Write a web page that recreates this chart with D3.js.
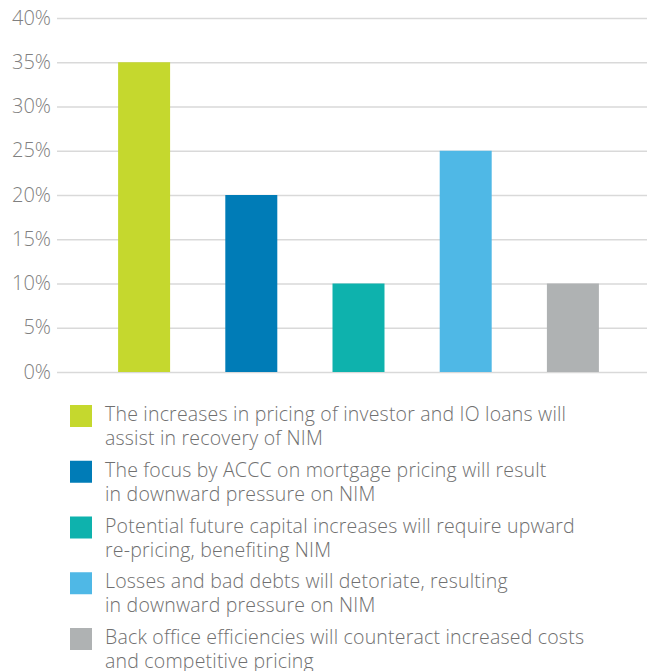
<!DOCTYPE html>
<html>
<head>
<meta charset="utf-8">
<script src="https://cdn.jsdelivr.net/npm/d3@7"></script>
<style>
  html, body { margin: 0; padding: 0; background: #fff; }
  svg { display: block; }
  text { font-family: "Open Sans", "Noto Sans", sans-serif; }
</style>
</head>
<body>
<svg id="chart" width="647" height="671"></svg>
<script>
// Survey responses: expected drivers of net interest margin (NIM)
const categories = [
  "The increases in pricing of investor and IO loans will|assist in recovery of NIM",
  "The focus by ACCC on mortgage pricing will result|in downward pressure on NIM",
  "Potential future capital increases will require upward|re-pricing, benefiting NIM",
  "Losses and bad debts will detoriate, resulting|in downward pressure on NIM",
  "Back office efficiencies will counteract increased costs|and competitive pricing"
];
const values = [35, 20, 10, 25, 10];
const colors = ["#c5d82e", "#007cb7", "#0eb2ad", "#4fb8e6", "#afb2b3"];
const yTicks = [0, 5, 10, 15, 20, 25, 30, 35, 40];

const svg = d3.select("#chart");

const gridLeft = 57, gridRight = 647;
const y = d3.scaleLinear().domain([0, 40]).range([372, 18]);
const x = d3.scaleBand()
  .domain(d3.range(values.length))
  .range([90.5, 626.5])
  .paddingInner(0.515)
  .paddingOuter(0.2575);

// Horizontal gridlines with percentage labels
const yAxis = d3.axisLeft(y)
  .tickValues(yTicks)
  .tickFormat(d => d + "%")
  .tickSize(-(gridRight - gridLeft))
  .tickPadding(6);

const gAxis = svg.append("g")
  .attr("transform", `translate(${gridLeft},0)`)
  .call(yAxis);
gAxis.select(".domain").remove();
gAxis.selectAll(".tick line")
  .attr("stroke", "#d9d9d9")
  .attr("stroke-width", 1.5);
gAxis.selectAll(".tick text")
  .attr("fill", "#808080")
  .attr("font-size", 20)
  .attr("font-weight", 300)
  .attr("dy", "0.3em")
  .attr("font-family", "'Open Sans', sans-serif");

// Bars
svg.append("g").selectAll("rect")
  .data(values)
  .join("rect")
  .attr("x", (d, i) => x(i))
  .attr("width", x.bandwidth())
  .attr("y", d => y(d))
  .attr("height", d => y(0) - y(d))
  .attr("fill", (d, i) => colors[i]);

// Legend
const legend = svg.append("g").attr("transform", "translate(70,405)");
const rowStep = 55.75;
const item = legend.selectAll("g")
  .data(categories)
  .join("g")
  .attr("transform", (d, i) => `translate(0,${i * rowStep})`);

item.append("rect")
  .attr("width", 22)
  .attr("height", 22)
  .attr("fill", (d, i) => colors[i]);

item.append("text")
  .attr("fill", "#707070")
  .attr("font-size", 19.5)
  .attr("letter-spacing", 0.2)
  .attr("font-weight", 300)
  .each(function (d) {
    const lines = d.split("|");
    d3.select(this).selectAll("tspan")
      .data(lines)
      .join("tspan")
      .attr("x", 35)
      .attr("y", (l, j) => 16 + j * 24)
      .text(l => l);
  });
</script>
</body>
</html>
